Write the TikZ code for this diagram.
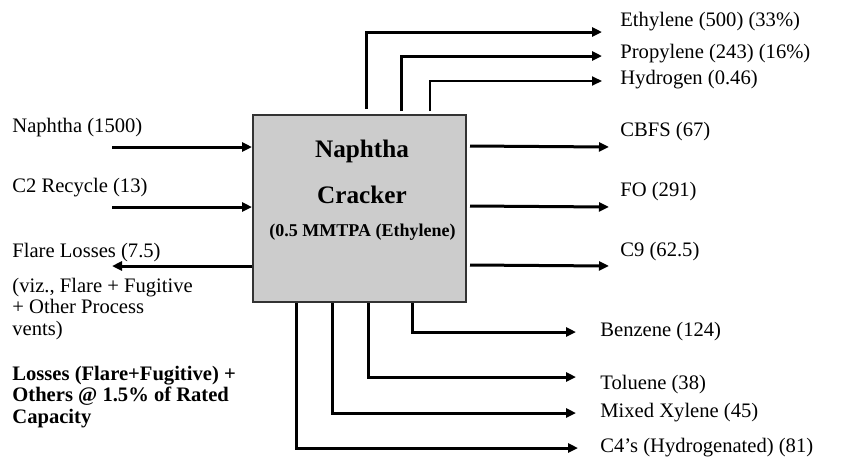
\documentclass[tikz,border=0pt]{standalone}
\usepackage{fontspec}
\setmainfont{Liberation Serif}
\usetikzlibrary{arrows.meta,calc}
\definecolor{boxgray}{RGB}{204,204,204}
\begin{document}
\begin{tikzpicture}[x=0.5pt,y=-0.5pt,
  flow/.style={line width=1.5pt,-{Triangle[length=5pt,width=4.5pt]}},
  thinflow/.style={line width=1pt,-{Triangle[length=5pt,width=4.5pt]}},
  lbl/.style={anchor=west,inner sep=0pt,font=\fontsize{10.3}{10.8}\selectfont},
  blbl/.style={anchor=west,inner sep=0pt,font=\bfseries\fontsize{10.3}{10.8}\selectfont},
  boxtxt/.style={inner sep=0pt,font=\bfseries\fontsize{12.6}{14}\selectfont},
  unit/.style={draw=black!80,line width=1pt,fill=boxgray,minimum width=106.5pt,minimum height=93.5pt,inner sep=0pt}
]
\useasboundingbox (0,0) rectangle (846,461);

% main unit
\node[unit] (box) at (359.5,208.5) {};
\node[boxtxt] (tNap) at (362,151) {Naphtha};
\node[boxtxt] (tCrk) at (362,195) {Cracker};
\node[inner sep=0pt,font=\bfseries\fontsize{9}{10}\selectfont] (tCap) at (362.5,232) {(0.5 MMTPA (Ethylene)};

% arrow end coordinates
\coordinate (tEth) at (602,32);
\coordinate (tPro) at (602,56);
\coordinate (tHyd) at (602,81);
\coordinate (tCB) at (609,147);
\coordinate (tFO) at (609,207);
\coordinate (tC9) at (609,266);
\coordinate (sNap) at (112,147);
\coordinate (sC2) at (112,207);
\coordinate (tFl) at (112,266);
\coordinate (tBen) at (576,332);
\coordinate (tTol) at (576,377);
\coordinate (tXyl) at (576,413);
\coordinate (tC4) at (578,448);

% top outputs
\draw[flow] ($(box.north west)+(114,-5)$) |- (tEth);
\draw[flow] ($(box.north west)+(149,-3)$) |- (tPro);
\draw[thinflow] ($(box.north west)+(178,-3)$) |- (tHyd);

% right outputs
\draw[flow] ($(box.north east)+(3,32)$) -- (tCB);
\draw[flow] ($(box.north east)+(3,92)$) -- (tFO);
\draw[flow] ($(box.north east)+(3,151)$) -- (tC9);

% left inputs / losses
\draw[flow] (sNap) -- (sNap -| box.west);
\draw[flow] (sC2) -- (sC2 -| box.west);
\draw[flow] (tFl -| box.west) -- (tFl);

% bottom outputs
\draw[flow] ($(box.south west)+(160,0)$) |- (tBen);
\draw[flow] ($(box.south west)+(116,0)$) |- (tTol);
\draw[flow] ($(box.south west)+(80,0)$) |- (tXyl);
\draw[flow] ($(box.south west)+(44,0)$) |- (tC4);

% labels
\node[lbl] (lEth) at (620,22) {Ethylene (500) (33\%)};
\node[lbl] (lPro) at (620,54) {Propylene (243) (16\%)};
\node[lbl] (lHyd) at (620,80) {Hydrogen (0.46)};
\node[lbl] (lCB) at (620,132) {CBFS (67)};
\node[lbl] (lFO) at (620,192) {FO (291)};
\node[lbl] (lC9) at (620,252) {C9 (62.5)};
\node[lbl] (lNap) at (12,128) {Naphtha (1500)};
\node[lbl] (lC2) at (12,188) {C2 Recycle (13)};
\node[lbl] (lFl) at (12,253) {Flare Losses (7.5)};
\node[lbl,align=left] (lViz) at (12,309) {(viz., Flare + Fugitive\\+ Other Process\\vents)};
\node[blbl,align=left] (lLoss) at (12,397) {Losses (Flare+Fugitive) +\\Others @ 1.5\% of Rated\\Capacity};
\node[lbl] (lBen) at (600,332) {Benzene (124)};
\node[lbl] (lTol) at (600,385) {Toluene (38)};
\node[lbl] (lXyl) at (600,413) {Mixed Xylene (45)};
\node[lbl] (lC4) at (600,448) {C4’s (Hydrogenated) (81)};
\end{tikzpicture}
\end{document}
